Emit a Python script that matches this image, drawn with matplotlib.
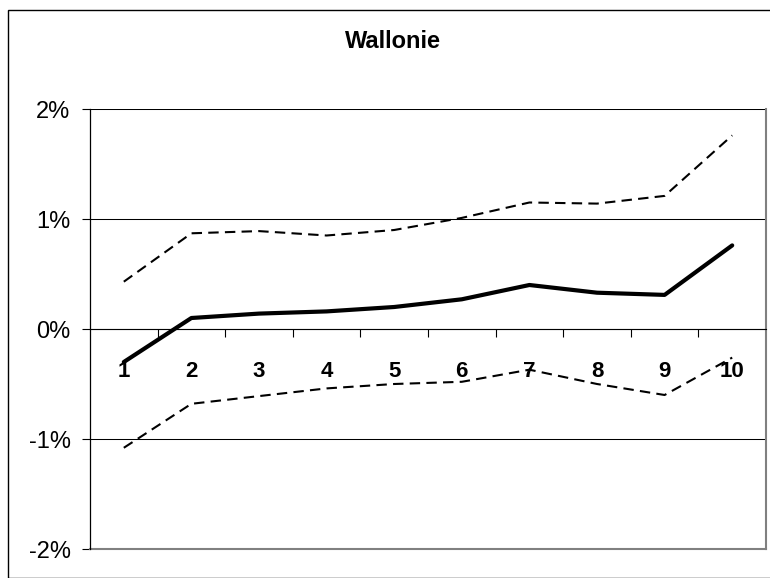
"""Wallonie: central estimate with upper and lower bounds, by decile."""
import matplotlib

matplotlib.use("Agg")
import matplotlib.pyplot as plt
from matplotlib.patches import Rectangle
from matplotlib.ticker import FixedLocator, PercentFormatter

plt.rcParams["font.family"] = ["Liberation Sans", "DejaVu Sans"]
plt.rcParams["axes.unicode_minus"] = False

title = "Wallonie"
categories = ["1", "2", "3", "4", "5", "6", "7", "8", "9", "10"]
central = [-0.30, 0.10, 0.14, 0.16, 0.20, 0.27, 0.40, 0.33, 0.31, 0.76]
upper = [0.43, 0.87, 0.89, 0.85, 0.90, 1.01, 1.15, 1.14, 1.21, 1.76]
lower = [-1.08, -0.68, -0.61, -0.54, -0.50, -0.48, -0.37, -0.50, -0.60, -0.26]
y_ticks = [-2, -1, 0, 1, 2]

W, H = 770, 578
fig = plt.figure(figsize=(W / 100, H / 100), dpi=100)

# outer chart frame
fig.patches.append(Rectangle((8 / W, 0), 1, 1 - 10 / H, transform=fig.transFigure,
                             fill=False, edgecolor="black", linewidth=1.0))

ax = fig.add_axes([90 / W, 1 - 549 / H, (766 - 90) / W, (549 - 109) / H])

x = list(range(1, len(categories) + 1))
to_frac = lambda vals: [v / 100 for v in vals]

ax.plot(x, to_frac(upper), color="black", linewidth=1.5, linestyle=(0, (5, 3)))
ax.plot(x, to_frac(lower), color="black", linewidth=1.5, linestyle=(0, (5, 3)))
ax.plot(x, to_frac(central), color="black", linewidth=3.0, solid_capstyle="round")

ax.set_xlim(0.5, len(categories) + 0.5)
ax.set_ylim(-0.02, 0.02)

ax.set_yticks([t / 100 for t in y_ticks])
ax.yaxis.set_major_formatter(PercentFormatter(1, decimals=0))
ax.yaxis.grid(True, color="black", linewidth=0.75)
ax.axhline(y_ticks[0] / 100, color="#808080", linewidth=1.5, clip_on=False)
ax.tick_params(axis="y", direction="out", length=6, width=0.8, pad=8, labelsize=17)

# category axis crosses at 0
ax.spines["bottom"].set_position(("data", 0))
ax.spines["bottom"].set_linewidth(0.8)
ax.spines["top"].set_visible(False)
ax.spines["left"].set_linewidth(0.9)
ax.spines["right"].set_color("#808080")
ax.spines["right"].set_linewidth(1.5)

ax.set_xticks(x)
ax.set_xticklabels(categories, fontweight="bold")
ax.xaxis.set_minor_locator(FixedLocator([i + 0.5 for i in range(1, len(categories))]))
ax.tick_params(axis="x", which="major", length=0, pad=23, labelsize=16)
ax.tick_params(axis="x", which="minor", direction="out", length=6, width=0.8)

fig.text(393 / W, 1 - 42 / H, title, ha="center", va="center",
         fontsize=17, fontweight="bold")

fig.savefig("out.png", dpi=100)
